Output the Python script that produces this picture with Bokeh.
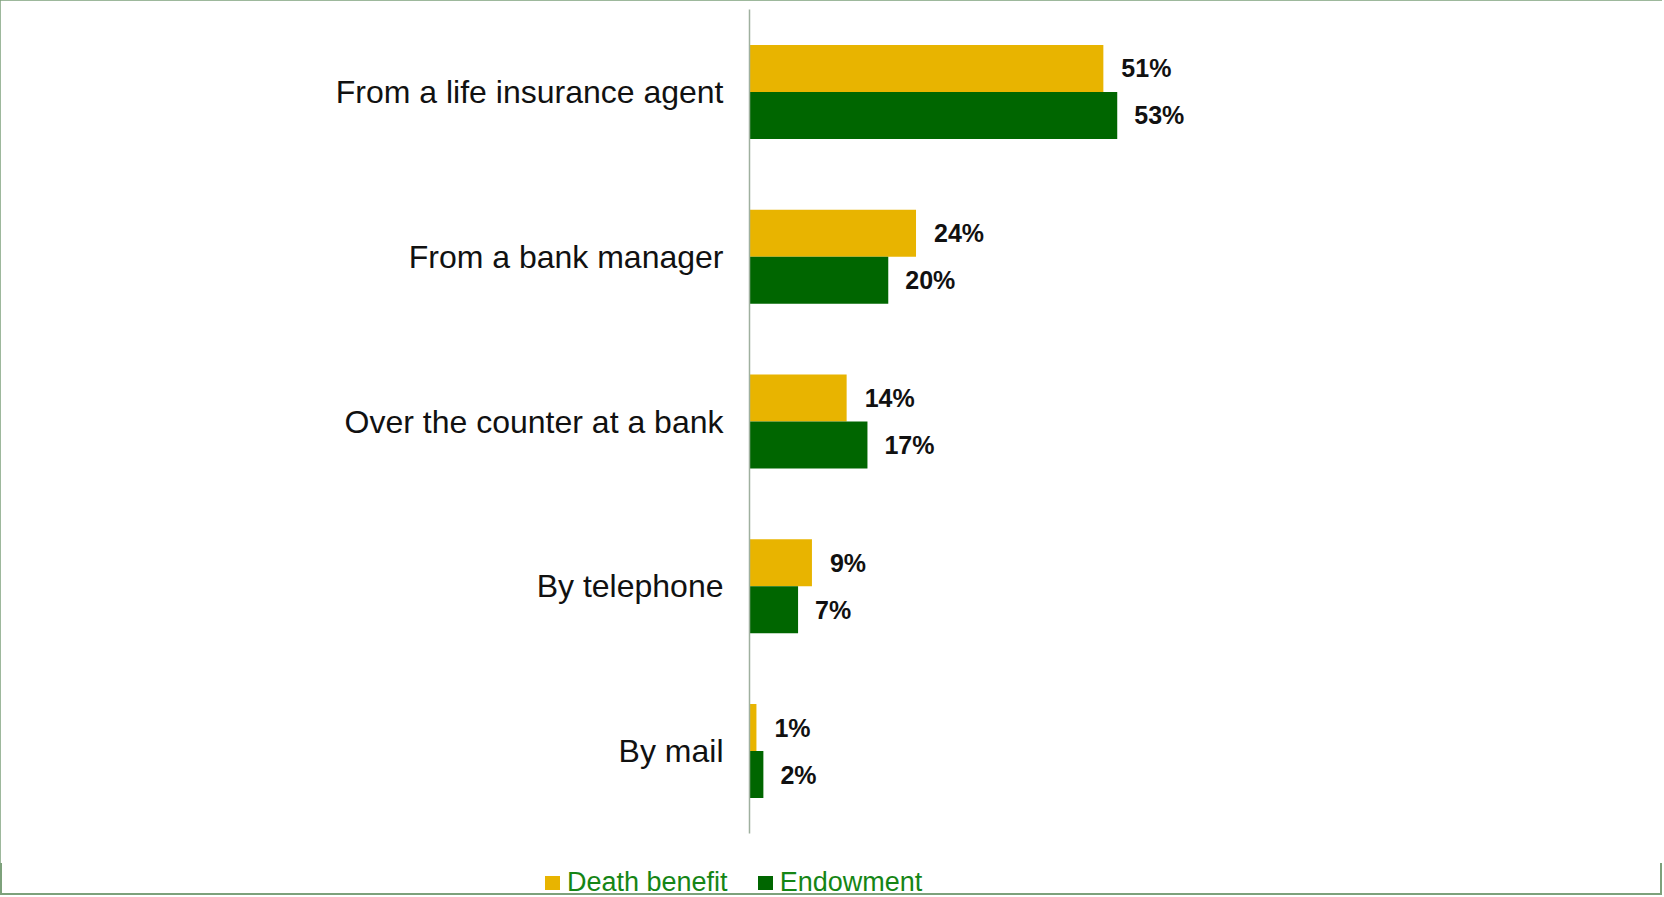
from bokeh.plotting import figure
from bokeh.layouts import column
from bokeh.models import ColumnDataSource, FactorRange, Range1d, Div
from bokeh.transform import dodge
from bokeh.core.properties import value
from bokeh.embed import file_html
from bokeh.resources import INLINE

categories = ["From a life insurance agent", "From a bank manager",
              "Over the counter at a bank", "By telephone", "By mail"]
death_benefit = [51, 24, 14, 9, 1]
endowment = [53, 20, 17, 7, 2]
series_names = ["Death benefit", "Endowment"]

YELLOW = "#E8B400"
GREEN = "#006600"
FONT = "Liberation Sans"

src = ColumnDataSource(dict(
    cat=categories,
    death=death_benefit,
    endow=endowment,
    death_lbl=[f"{v}%" for v in death_benefit],
    endow_lbl=[f"{v}%" for v in endowment],
))

p = figure(
    frame_width=902, frame_height=824,
    y_range=FactorRange(*list(reversed(categories)), range_padding=0),
    x_range=Range1d(0, 130),
    output_backend="svg", toolbar_location=None,
    x_axis_location=None,
    min_border_left=749, min_border_right=11, min_border_top=9, min_border_bottom=30,
)
p.outline_line_color = None
p.xgrid.visible = False
p.ygrid.visible = False
p.background_fill_color = "white"
p.border_fill_color = "white"

off = 0.1426
h = 0.285
p.hbar(y=dodge("cat", off, range=p.y_range), left=0, right="death", height=h,
       source=src, fill_color=YELLOW, line_color=None)
p.hbar(y=dodge("cat", -off, range=p.y_range), left=0, right="endow", height=h,
       source=src, fill_color=GREEN, line_color=None)

p.text(x="death", y=dodge("cat", off, range=p.y_range), text="death_lbl", source=src,
       x_offset=18, text_baseline="middle", text_align="left",
       text_font=value(FONT), text_font_style="bold", text_font_size="25px",
       text_color="#111111")
p.text(x="endow", y=dodge("cat", -off, range=p.y_range), text="endow_lbl", source=src,
       x_offset=17, text_baseline="middle", text_align="left",
       text_font=value(FONT), text_font_style="bold", text_font_size="25px",
       text_color="#111111")

ax = p.yaxis[0]
ax.axis_line_color = "#9fb09f"
ax.axis_line_width = 1.5
ax.major_tick_line_color = None
ax.minor_tick_line_color = None
ax.major_tick_in = 0
ax.major_tick_out = 0
ax.major_label_standoff = 26
ax.major_label_text_font = FONT
ax.major_label_text_font_size = "32px"
ax.major_label_text_color = "#111111"

# legend strip below the chart (real text)
def swatch(color):
    return (f'<span style="display:inline-block;width:15px;height:14px;background:{color};'
            f'margin-right:7px;vertical-align:middle;position:relative;top:-1px"></span>')

legend_html = (
    f'<div style="font-family:\'{FONT}\';font-size:27px;color:#158515;line-height:32px;'
    f'white-space:nowrap;padding-left:545px;margin-top:3px">'
    f'{swatch(YELLOW)}{series_names[0]}'
    f'<span style="display:inline-block;width:30px"></span>'
    f'{swatch(GREEN)}{series_names[1]}</div>'
)
lg = Div(text=legend_html, width=1662, height=32, margin=0)

layout = column(p, lg, spacing=0)
layout.styles = {"outline": "2px solid #7da17b", "outline-offset": "-2px"}

open("out.html", "w").write(file_html(layout, INLINE))
